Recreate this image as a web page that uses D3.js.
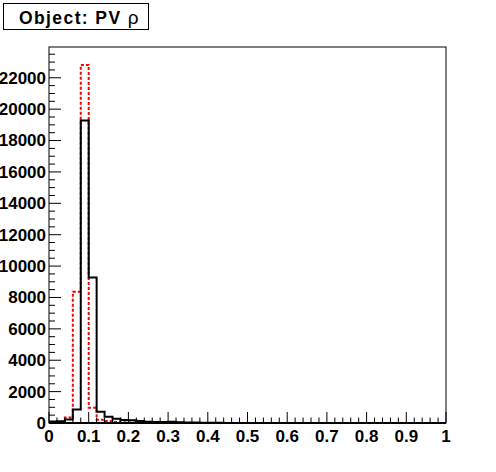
<!DOCTYPE html>
<html>
<head>
<meta charset="utf-8">
<script src="https://cdn.jsdelivr.net/npm/d3@7"></script>
<style>
  body { margin: 0; background: #fff; }
  text { font-family: "Liberation Sans", Arial, sans-serif; font-weight: bold; }
</style>
</head>
<body>
<div id="chart"></div>
<script>
(function(){
  var width = 496, height = 472;

  // bin edges: 50 bins of 0.02 from 0 to 1
  var binWidth = 0.02, nBins = 50;
  // black (solid) histogram, first bins (rest zero)
  var solidCounts = [90, 110, 230, 860, 19280, 9280, 720, 400, 270, 190,
                     170, 130, 80, 70, 60, 75, 50, 35, 25, 15,
                     10, 8, 6, 5, 4, 3, 2, 2, 1, 1];
  // red (dashed) histogram
  var dashedCounts = [20, 60, 350, 8360, 22820, 975, 200, 120, 70, 40,
                      30, 25, 20, 15, 30, 10, 8, 6, 5, 4,
                      3, 2, 2, 1, 1];
  var xTicks = [0, 0.1, 0.2, 0.3, 0.4, 0.5, 0.6, 0.7, 0.8, 0.9, 1];
  var yTicks = [0, 2000, 4000, 6000, 8000, 10000, 12000, 14000, 16000, 18000, 20000, 22000];
  var title = "Object: PV ";

  var left = 49, right = 446, top = 47, bottom = 423;

  var svg = d3.select("#chart").append("svg")
    .attr("width", width).attr("height", height);

  var x = d3.scaleLinear().domain([0, 1]).range([left, right]);
  var yMax = d3.max(dashedCounts) * 1.05;
  var y = d3.scaleLinear().domain([0, yMax]).range([bottom, top]);

  function pts(counts) {
    var p = [[0, 0]];
    for (var i = 0; i < nBins; i++) p.push([i * binWidth, counts[i] || 0]);
    p.push([1, 0]);
    return p;
  }

  var line = d3.line()
    .x(function(d){ return x(d[0]); })
    .y(function(d){ return y(d[1]); })
    .curve(d3.curveStepAfter);

  svg.append("clipPath").attr("id", "frame")
    .append("rect").attr("x", left).attr("y", top)
    .attr("width", right - left).attr("height", bottom - top);

  var g = svg.append("g").attr("clip-path", "url(#frame)");

  g.append("path")
    .attr("d", line(pts(dashedCounts)))
    .attr("fill", "none")
    .attr("stroke", "#ff0000")
    .attr("stroke-width", 2)
    .attr("stroke-dasharray", "3,2");

  g.append("path")
    .attr("d", line(pts(solidCounts)))
    .attr("fill", "none")
    .attr("stroke", "#000")
    .attr("stroke-width", 2);

  // frame
  svg.append("rect")
    .attr("x", left).attr("y", top)
    .attr("width", right - left).attr("height", bottom - top)
    .attr("fill", "none").attr("stroke", "#000").attr("stroke-width", 1);

  // x axis
  var xg = svg.append("g").attr("transform", "translate(0," + bottom + ")");
  xg.selectAll("line.tick")
    .data(d3.range(0, 51))
    .enter().append("line")
    .attr("x1", function(d){ return x(d * 0.02); })
    .attr("x2", function(d){ return x(d * 0.02); })
    .attr("y1", 0)
    .attr("y2", function(d){ return d % 5 == 0 ? -11 : -5.5; })
    .attr("stroke", "#000");
  xg.selectAll("text")
    .data(xTicks)
    .enter().append("text")
    .attr("x", function(d){ return x(d); })
    .attr("y", 18.5)
    .attr("text-anchor", "middle")
    .attr("font-size", "17px")
    .text(function(d){ return d3.format("")(d); });
  svg.append("line")
    .attr("x1", left).attr("x2", right).attr("y1", bottom).attr("y2", bottom)
    .attr("stroke", "#000").attr("stroke-width", 2);

  // y axis
  var yg = svg.append("g").attr("transform", "translate(" + left + ",0)");
  yg.selectAll("line.tick")
    .data(d3.range(0, Math.floor(yMax / 500) + 1))
    .enter().append("line")
    .attr("y1", function(d){ return y(d * 500); })
    .attr("y2", function(d){ return y(d * 500); })
    .attr("x1", 0)
    .attr("x2", function(d){ return d % 4 == 0 ? 12 : 6; })
    .attr("stroke", "#000");
  yg.selectAll("text")
    .data(yTicks)
    .enter().append("text")
    .attr("x", -3)
    .attr("y", function(d){ return y(d); })
    .attr("dy", "0.35em")
    .attr("text-anchor", "end")
    .attr("font-size", "17px")
    .text(function(d){ return d; });

  // title box
  svg.append("rect")
    .attr("x", 3.5).attr("y", 3.5).attr("width", 145).attr("height", 26)
    .attr("fill", "#fff").attr("stroke", "#000");
  var t = svg.append("text")
    .attr("x", 19).attr("y", 24)
    .attr("font-size", "17.5px")
    .attr("letter-spacing", "1.4px");
  t.append("tspan").text(title);
  t.append("tspan").attr("font-weight", "normal").attr("font-size", "19px").text("ρ");
})();
</script>
</body>
</html>
